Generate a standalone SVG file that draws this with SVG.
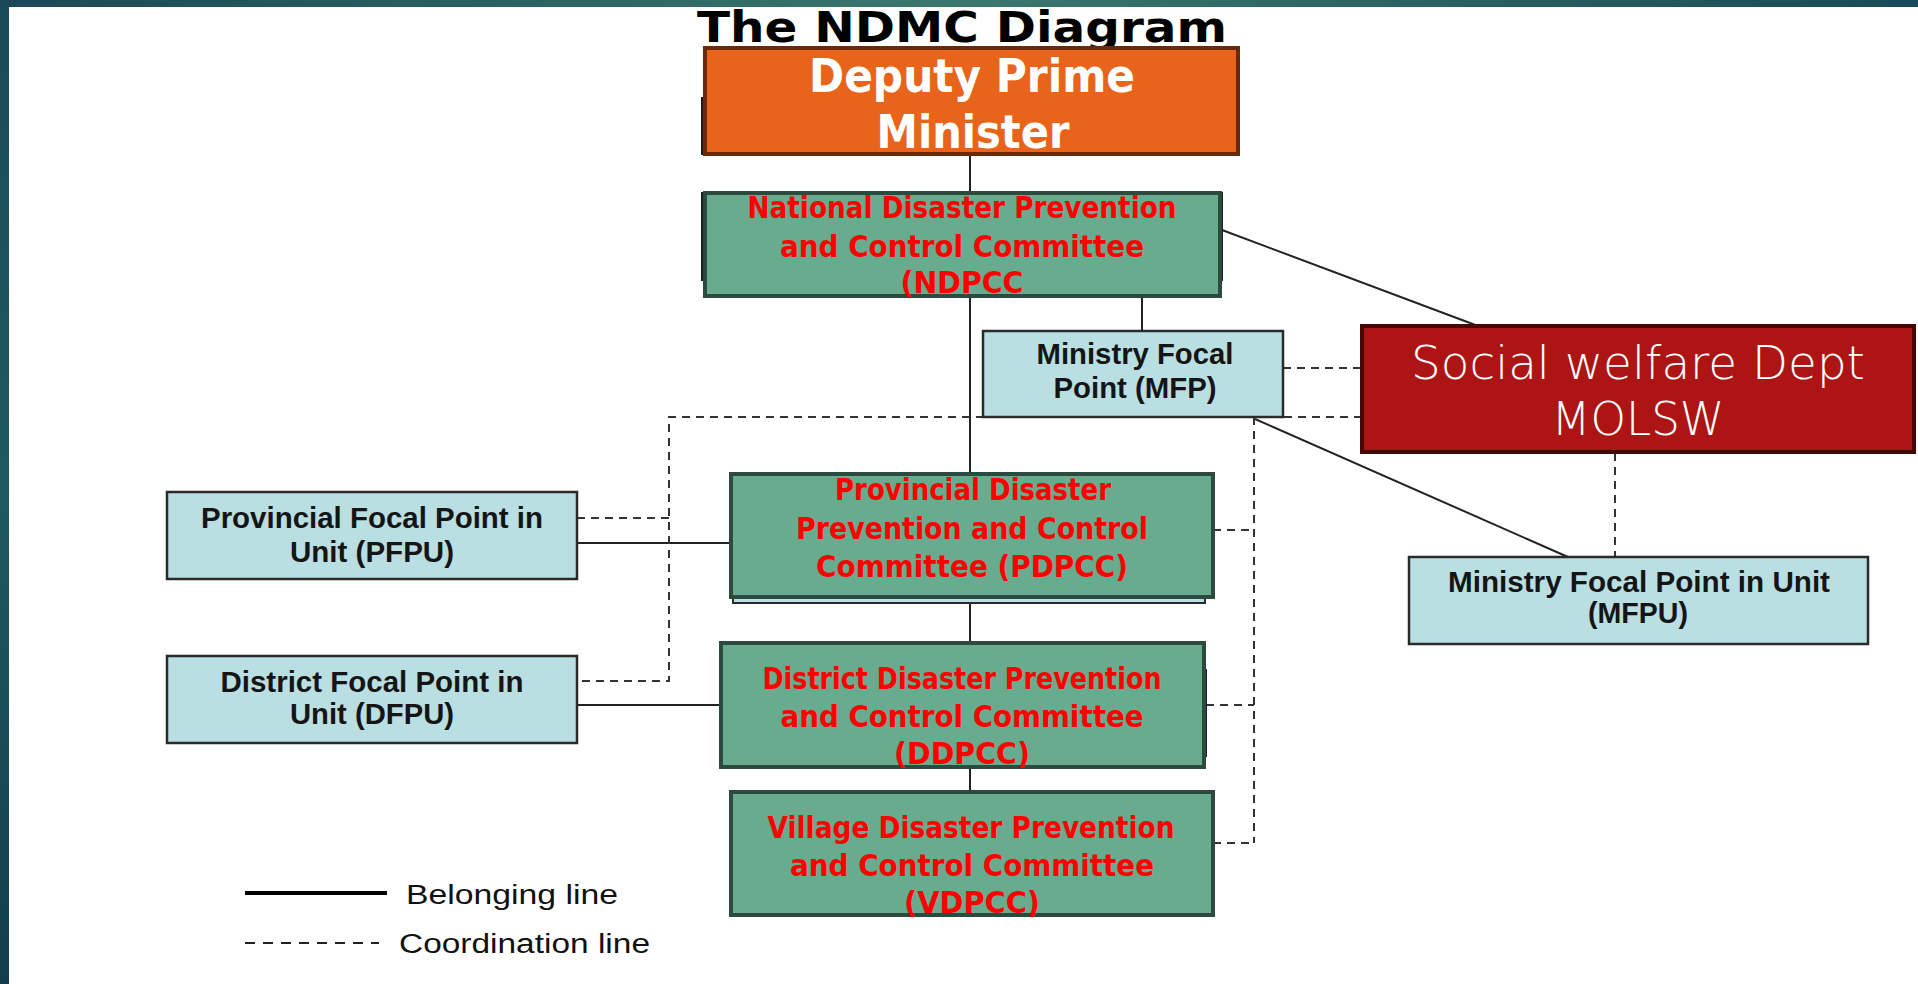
<svg xmlns="http://www.w3.org/2000/svg" width="1918" height="984" viewBox="0 0 1918 984">
<defs>
<linearGradient id="topbar" x1="0" y1="0" x2="1" y2="0">
<stop offset="0" stop-color="#1b4857"/>
<stop offset="0.5" stop-color="#3a786d"/>
<stop offset="1" stop-color="#1b4a58"/>
</linearGradient>
<linearGradient id="leftbar" x1="0" y1="0" x2="0" y2="1">
<stop offset="0" stop-color="#1a4a57"/>
<stop offset="0.5" stop-color="#1f5a60"/>
<stop offset="1" stop-color="#133d4c"/>
</linearGradient>
<style>
.conn{stroke:#222;stroke-width:2;fill:none}
.dash{stroke:#333;stroke-width:2;stroke-dasharray:8 6;fill:none}
.green{fill:#68ab8e;stroke:#2c4a3d;stroke-width:4}
.shadow{fill:#1e1e1e;stroke:none}
.blue{fill:#b9dfe2;stroke:#2a2a2a;stroke-width:2.5}
.rt{font-family:"DejaVu Sans","Liberation Sans",sans-serif;font-weight:bold;fill:#ff0000;text-anchor:middle;font-size:30px}
.bt{font-family:"Liberation Sans",Arial,sans-serif;font-weight:bold;fill:#151515;text-anchor:middle;font-size:30px}
.lt{font-family:"Liberation Sans",Arial,sans-serif;fill:#111;font-size:27px}
</style>
</defs>
<rect x="0" y="0" width="1918" height="984" fill="url(#leftbar)"/>
<rect x="0" y="0" width="1918" height="8" fill="url(#topbar)"/>
<rect x="9" y="7" width="1909" height="977" fill="#ffffff"/>

<text x="697" y="42" font-family="DejaVu Sans,Verdana,sans-serif" font-weight="bold" font-size="43" fill="#000" textLength="530" lengthAdjust="spacingAndGlyphs">The NDMC Diagram</text>

<g id="connectors">
<line class="conn" x1="970" y1="154" x2="970" y2="193"/>
<line class="conn" x1="970" y1="296" x2="970" y2="474"/>
<line class="conn" x1="1142" y1="296" x2="1142" y2="331"/>
<line class="conn" x1="1222" y1="230" x2="1478" y2="326"/>
<line class="conn" x1="1255" y1="419" x2="1568" y2="557"/>
<line class="conn" x1="970" y1="597" x2="970" y2="643"/>
<line class="conn" x1="970" y1="767" x2="970" y2="792"/>
<line class="conn" x1="577" y1="543" x2="731" y2="543"/>
<line class="conn" x1="577" y1="705" x2="721" y2="705"/>
<line class="dash" x1="1283" y1="368" x2="1362" y2="368"/>
<polyline class="dash" points="1362,417 669,417 669,681 577,681"/>
<line class="dash" x1="577" y1="518" x2="669" y2="518"/>
<line class="dash" x1="1254" y1="417" x2="1254" y2="843"/>
<line class="dash" x1="1213" y1="530" x2="1254" y2="530"/>
<line class="dash" x1="1206" y1="705" x2="1254" y2="705"/>
<line class="dash" x1="1213" y1="843" x2="1254" y2="843"/>
<line class="dash" x1="1615" y1="453" x2="1615" y2="557"/>
</g>

<g id="dpm">
<rect class="shadow" x="701" y="97" width="20" height="58"/>
<rect x="705" y="48" width="533" height="106" fill="#e8641a" stroke="#6a2a08" stroke-width="4"/>
<text x="972" y="92" font-family="DejaVu Sans,Verdana,sans-serif" font-weight="bold" font-size="46" fill="#fff" text-anchor="middle" textLength="326" lengthAdjust="spacingAndGlyphs">Deputy Prime</text>
<text x="973" y="148" font-family="DejaVu Sans,Verdana,sans-serif" font-weight="bold" font-size="46" fill="#fff" text-anchor="middle" textLength="193" lengthAdjust="spacingAndGlyphs">Minister</text>
</g>

<g id="ndpcc">
<rect class="shadow" x="701" y="192" width="522" height="89"/>
<rect class="green" x="705" y="193" width="515" height="103"/>
<text class="rt" x="962" y="218" textLength="429" lengthAdjust="spacingAndGlyphs">National Disaster Prevention</text>
<text class="rt" x="962" y="257" textLength="364" lengthAdjust="spacingAndGlyphs">and Control Committee</text>
<text class="rt" x="962" y="293" textLength="123" lengthAdjust="spacingAndGlyphs">(NDPCC</text>
</g>

<g id="mfp">
<rect class="blue" x="983" y="331" width="300" height="86"/>
<text class="bt" x="1135" y="364" textLength="197" lengthAdjust="spacingAndGlyphs">Ministry Focal</text>
<text class="bt" x="1135" y="398" textLength="163" lengthAdjust="spacingAndGlyphs">Point (MFP)</text>
</g>

<g id="social">
<rect x="1362" y="326" width="552" height="126" fill="#ad1515" stroke="#4a0505" stroke-width="4"/>
<text x="1638" y="379" font-family="DejaVu Sans,sans-serif" font-weight="300" font-size="47" fill="#fff" text-anchor="middle" textLength="454" lengthAdjust="spacingAndGlyphs">Social welfare Dept</text>
<text x="1638" y="435" font-family="DejaVu Sans,sans-serif" font-weight="300" font-size="47" fill="#fff" text-anchor="middle" textLength="173" lengthAdjust="spacingAndGlyphs">MOLSW</text>
</g>

<g id="pfpu">
<rect class="blue" x="167" y="492" width="410" height="87"/>
<text class="bt" x="372" y="528" textLength="342" lengthAdjust="spacingAndGlyphs">Provincial Focal Point in</text>
<text class="bt" x="372" y="562" textLength="164" lengthAdjust="spacingAndGlyphs">Unit (PFPU)</text>
</g>

<g id="pdpcc">
<rect x="733" y="594" width="472" height="9" fill="#b9dfe2" stroke="#2a2a2a" stroke-width="2"/>
<rect class="green" x="731" y="474" width="482" height="123"/>
<text class="rt" x="973" y="500" textLength="276" lengthAdjust="spacingAndGlyphs">Provincial Disaster</text>
<text class="rt" x="972" y="539" textLength="352" lengthAdjust="spacingAndGlyphs">Prevention and Control</text>
<text class="rt" x="972" y="577" textLength="312" lengthAdjust="spacingAndGlyphs">Committee (PDPCC)</text>
</g>

<g id="mfpu">
<rect class="blue" x="1409" y="557" width="459" height="87"/>
<text class="bt" x="1639" y="592" textLength="382" lengthAdjust="spacingAndGlyphs">Ministry Focal Point in Unit</text>
<text class="bt" x="1638" y="623" textLength="100" lengthAdjust="spacingAndGlyphs">(MFPU)</text>
</g>

<g id="dfpu">
<rect class="blue" x="167" y="656" width="410" height="87"/>
<text class="bt" x="372" y="692" textLength="303" lengthAdjust="spacingAndGlyphs">District Focal Point in</text>
<text class="bt" x="372" y="724" textLength="164" lengthAdjust="spacingAndGlyphs">Unit (DFPU)</text>
</g>

<g id="ddpcc">
<rect class="shadow" x="1200" y="669" width="7" height="88"/>
<rect class="green" x="721" y="643" width="483" height="124"/>
<text class="rt" x="962" y="689" textLength="399" lengthAdjust="spacingAndGlyphs">District Disaster Prevention</text>
<text class="rt" x="962" y="727" textLength="363" lengthAdjust="spacingAndGlyphs">and Control Committee</text>
<text class="rt" x="962" y="764" textLength="136" lengthAdjust="spacingAndGlyphs">(DDPCC)</text>
</g>

<g id="vdpcc">
<rect class="green" x="731" y="792" width="482" height="123"/>
<text class="rt" x="971" y="838" textLength="407" lengthAdjust="spacingAndGlyphs">Village Disaster Prevention</text>
<text class="rt" x="972" y="876" textLength="364" lengthAdjust="spacingAndGlyphs">and Control Committee</text>
<text class="rt" x="972" y="913" textLength="136" lengthAdjust="spacingAndGlyphs">(VDPCC)</text>
</g>

<g id="legend">
<line x1="245" y1="893" x2="387" y2="893" stroke="#000" stroke-width="4"/>
<text class="lt" x="406" y="904" textLength="212" lengthAdjust="spacingAndGlyphs">Belonging  line</text>
<line x1="245" y1="943" x2="379" y2="943" stroke="#222" stroke-width="2" stroke-dasharray="10 8"/>
<text class="lt" x="399" y="953" textLength="251" lengthAdjust="spacingAndGlyphs">Coordination  line</text>
</g>
</svg>
